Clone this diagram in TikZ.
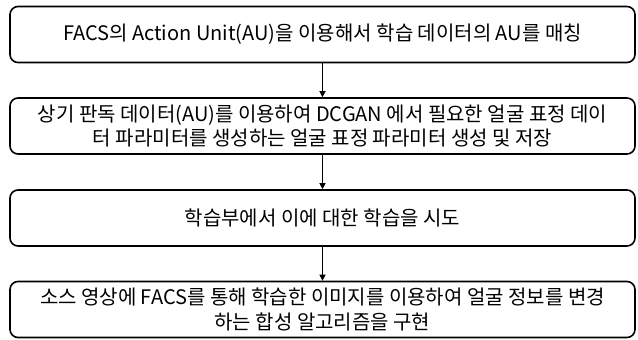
\documentclass[tikz,border=0pt]{standalone}
\usepackage{fontspec}
\setmainfont{Noto Sans CJK KR}
\usetikzlibrary{arrows.meta}
\tikzset{
  stepbox/.style={draw=black, line width=1.6pt, rounded corners=8pt, minimum width=625pt, minimum height=56pt, inner sep=0pt, align=center, font=\fontsize{20}{24.5}\selectfont},
  flow/.style={draw=black, line width=1.2pt, -{Triangle[length=6pt,width=6pt]}}
}
\begin{document}
\begin{tikzpicture}[x=1pt,y=-1pt]
\useasboundingbox (0,0) rectangle (638,340);
\node[stepbox] (b1) at (322.5,34.5) {FACS의 Action Unit(AU)을 이용해서 학습 데이터의 AU를 매칭};
\node[stepbox] (b2) at (322.5,126) {상기 판독 데이터(AU)를 이용하여 DCGAN 에서 필요한 얼굴 표정 데이\\터 파라미터를 생성하는 얼굴 표정 파라미터 생성 및 저장};
\node[stepbox] (b3) at (322.5,218) {학습부에서 이에 대한 학습을 시도};
\node[stepbox] (b4) at (322.5,309.5) {소스 영상에 FACS를 통해 학습한 이미지를 이용하여 얼굴 정보를 변경\\하는 합성 알고리즘을 구현};
\draw[flow] (b1) -- (b2);
\draw[flow] (b2) -- (b3);
\draw[flow] (b3) -- (b4);
\end{tikzpicture}
\end{document}
